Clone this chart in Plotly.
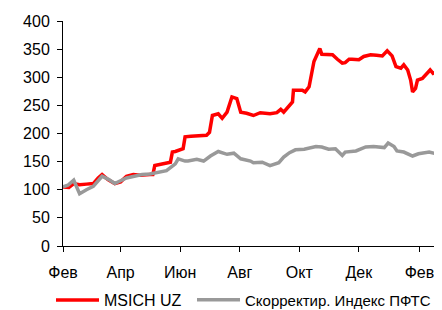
import pandas as pd
import plotly.graph_objects as go

base_date = "2009-02-01"

# MSICH UZ: days since base date, index value
msich_days = [0, 6, 11, 17, 24, 31, 36, 40, 46, 53, 59, 65, 72, 79, 89, 92, 94, 100, 106, 110, 112, 115,
              123, 125, 131, 136, 142, 147, 150, 153, 159, 163, 168, 173, 178, 182, 188, 195, 202, 212, 219,
              223, 226, 231, 235, 236, 240, 245, 248, 252, 257, 260, 263, 265, 271, 276, 281, 286, 289, 293,
              296, 303, 308, 315, 321, 327, 332, 337, 341, 346, 349, 353, 356, 358, 361, 363, 368, 372, 376,
              379, 383]
msich_vals = [105, 104, 111, 109, 110, 111, 121, 127, 118, 111, 114, 124, 127, 126, 127, 127, 143, 145, 147, 149, 167, 168,
              173, 194, 195, 196, 196, 197, 202, 232, 235, 227, 238, 265, 262, 238, 236, 232, 237, 235, 237,
              243, 238, 249, 256, 277, 277, 277, 274, 283, 328, 340, 351, 341, 340, 340, 332, 325, 326, 332,
              332, 331, 337, 340, 339, 338, 347, 338, 319, 316, 322, 313, 295, 274, 280, 295, 298, 305, 313,
              307, 310]

# Скорректир. Индекс ПФТС
pfts_days = [0, 5, 11, 17, 24, 31, 40, 47, 53, 59, 65, 73, 81, 89, 96, 106, 112, 115, 118, 125, 128, 137,
             144, 151, 159, 168, 175, 182, 192, 195, 204, 212, 221, 226, 232, 238, 247, 253, 259, 265, 272,
             279, 286, 289, 300, 310, 318, 329, 333, 339, 342, 349, 358, 364, 370, 375, 382]
pfts_vals = [105, 108, 117, 93, 100, 106, 124, 118, 111, 116, 121, 124, 127, 128, 130, 134, 142, 146, 155, 151, 151, 154,
             151, 160, 168, 163, 165, 155, 151, 148, 149, 143, 148, 158, 166, 171, 172, 175, 177, 176, 172,
             173, 161, 167, 169, 176, 177, 175, 183, 177, 169, 167, 160, 164, 166, 167, 164]

tick_days = [0, 59, 120, 181, 242, 303, 365]
tick_labels = ["Фев", "Апр", "Июн", "Авг", "Окт", "Дек", "Фев"]
y_ticks = [0, 50, 100, 150, 200, 250, 300, 350, 400]

start = pd.Timestamp(base_date)
to_dates = lambda d: [start + pd.Timedelta(days=int(v)) for v in d]

FONT = "Arial, 'Liberation Sans', sans-serif"

fig = go.Figure()
fig.add_trace(go.Scatter(x=to_dates(msich_days), y=msich_vals, mode="lines", name="MSICH UZ",
                         line=dict(color="#FF0000", width=3.5), legend="legend"))
fig.add_trace(go.Scatter(x=to_dates(pfts_days), y=pfts_vals, mode="lines", name="Скорректир. Индекс ПФТС",
                         line=dict(color="#999999", width=3.5), legend="legend2"))

leg_common = dict(orientation="h", xref="container", yref="container", y=0.058,
                  xanchor="left", yanchor="middle", itemwidth=43,
                  bgcolor="rgba(0,0,0,0)")

# the page body adds an 8px offset, so margins are shifted to compensate
fig.update_layout(
    width=442, height=310,
    margin=dict(l=55, r=13, t=13, b=72, autoexpand=False),
    paper_bgcolor="white", plot_bgcolor="white",
    font=dict(family=FONT, size=16, color="#000000"),
    showlegend=True,
    legend=dict(x=0.0973, font=dict(size=16), **leg_common),
    legend2=dict(x=0.4163, font=dict(size=15), **leg_common),
    xaxis=dict(
        range=[start, start + pd.Timedelta(days=383)],
        tickmode="array", tickvals=to_dates(tick_days), ticktext=tick_labels,
        showline=True, linecolor="#000000", linewidth=1, ticks="outside", ticklen=5,
        tickcolor="#000000", showgrid=False, zeroline=False, ticklabelstandoff=7,
        automargin=False,
    ),
    yaxis=dict(
        range=[0, 400], tickvals=y_ticks,
        showline=True, linecolor="#000000", linewidth=1, ticks="outside", ticklen=5,
        tickcolor="#000000", showgrid=False, zeroline=False, ticklabelstandoff=4,
        automargin=False,
    ),
)

fig.write_html("out.html")
